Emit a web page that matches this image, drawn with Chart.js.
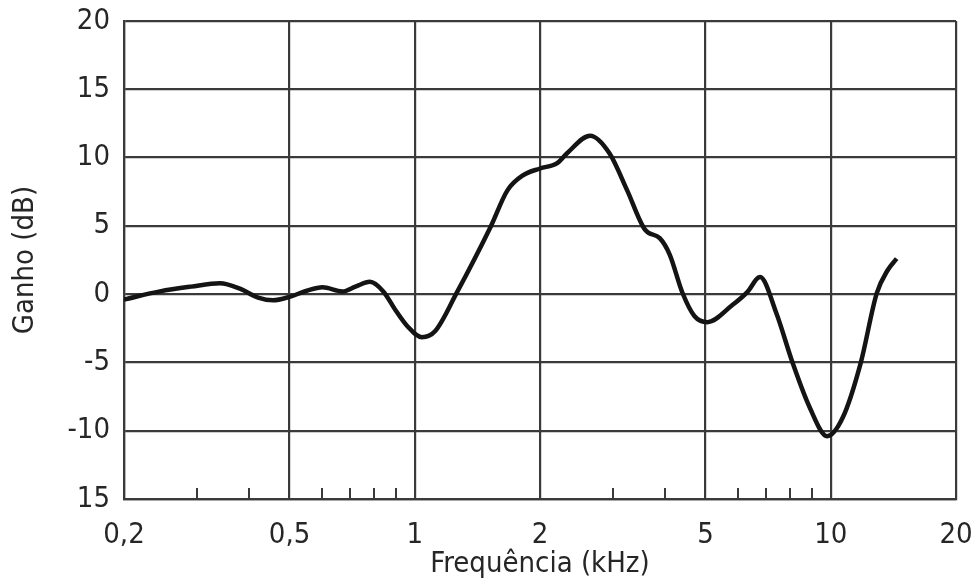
<!DOCTYPE html>
<html>
<head>
<meta charset="utf-8">
<script src="https://cdn.jsdelivr.net/npm/chart.js@4/dist/chart.umd.min.js"></script>
<style>
  html, body { margin: 0; padding: 0; background: #fff; }
  #wrap { width: 971px; height: 586px; position: relative; }
</style>
</head>
<body>
<div id="wrap"><canvas id="c" width="971" height="586"></canvas></div>
<script>
// ---- data ----
const freqKHz = [0.2, 0.244, 0.29, 0.34, 0.38, 0.42, 0.456, 0.5, 0.55, 0.6, 0.67, 0.72, 0.78, 0.84, 0.9, 0.96, 1.04, 1.12, 1.26, 1.52, 1.67, 1.82, 2.0, 2.2, 2.32, 2.64, 2.94, 3.24, 3.58, 3.88, 4.1, 4.4, 4.7, 5.05, 5.8, 6.3, 6.76, 7.4, 8.1, 8.9, 9.8, 10.7, 11.8, 12.9, 13.7, 14.4];
const gainDB  = [-0.4, 0.2, 0.55, 0.8, 0.4, -0.25, -0.45, -0.2, 0.25, 0.5, 0.2, 0.55, 0.9, 0.2, -1.2, -2.35, -3.15, -2.7, 0.07, 4.9, 7.6, 8.7, 9.2, 9.6, 10.3, 11.6, 10.3, 7.6, 4.7, 4.1, 2.9, 0.1, -1.6, -2.05, -0.8, 0.15, 1.25, -1.4, -5.05, -8.3, -10.4, -9.0, -5.05, 0.07, 1.75, 2.6];

const xTickValues = [0.2, 0.5, 1, 2, 5, 10, 20];
const xTickLabels = ['0,2', '0,5', '1', '2', '5', '10', '20'];
const xMinorTicks = [0.3, 0.4, 0.6, 0.7, 0.8, 0.9, 3, 4, 6, 7, 8, 9];
const yTickValues = [-15, -10, -5, 0, 5, 10, 15, 20];
const yTickLabels = ['15', '-10', '-5', '0', '5', '10', '15', '20'];

const xTitle = 'Frequência (kHz)';
const yTitle = 'Ganho (dB)';

// ---- styles ----
const FONT_FAMILY = "'DejaVu Sans Condensed', 'DejaVu Sans', sans-serif";
const FONT_SIZE = 29;
const GRID = '#3a3a3a';
const TEXT = '#262626';

const minorTickPlugin = {
  id: 'minorTicks',
  afterDraw(chart) {
    const xs = chart.scales.x;
    const ctx = chart.ctx;
    const bottom = chart.chartArea.bottom;
    ctx.save();
    ctx.strokeStyle = GRID;
    ctx.lineWidth = 2;
    xMinorTicks.forEach(v => {
      const px = Math.round(xs.getPixelForValue(v));
      ctx.beginPath();
      ctx.moveTo(px, bottom);
      ctx.lineTo(px, bottom - 11);
      ctx.stroke();
    });
    ctx.restore();
  }
};

const points = freqKHz.map((f, i) => ({ x: f, y: gainDB[i] }));

new Chart(document.getElementById('c'), {
  type: 'line',
  data: {
    datasets: [{
      data: points,
      borderColor: '#141414',
      borderWidth: 4.5,
      pointRadius: 0,
      fill: false,
      cubicInterpolationMode: 'monotone'
    }]
  },
  options: {
    responsive: false,
    animation: false,
    devicePixelRatio: 1,
    layout: { padding: { top: 21, right: 15, left: 0, bottom: 0 } },
    plugins: { legend: { display: false }, tooltip: { enabled: false } },
    scales: {
      x: {
        type: 'logarithmic',
        min: 0.2,
        max: 20,
        afterBuildTicks(scale) { scale.ticks = xTickValues.map(v => ({ value: v })); },
        afterFit(scale) { scale.height = 87; scale.paddingLeft = 0; scale.paddingRight = 0; },
        grid: { color: GRID, lineWidth: 2.2, drawTicks: false },
        border: { display: true, color: GRID, width: 2.2 },
        ticks: {
          autoSkip: false, maxRotation: 0, padding: 19,
          color: TEXT,
          font: { family: FONT_FAMILY, size: FONT_SIZE },
          callback(value, index) { return xTickLabels[index]; }
        },
        title: {
          display: true, text: xTitle, color: TEXT,
          font: { family: FONT_FAMILY, size: FONT_SIZE },
          padding: { top: 0, bottom: 4 }
        }
      },
      y: {
        type: 'linear',
        min: -15,
        max: 20,
        afterBuildTicks(scale) { scale.ticks = yTickValues.map(v => ({ value: v })); },
        afterFit(scale) { scale.width = 124; scale.paddingTop = 0; scale.paddingBottom = 0; },
        grid: { color: GRID, lineWidth: 2.2, drawTicks: false },
        border: { display: true, color: GRID, width: 2.2 },
        ticks: {
          padding: 14,
          color: TEXT,
          font: { family: FONT_FAMILY, size: FONT_SIZE },
          callback(value, index) { return yTickLabels[index]; }
        },
        title: {
          display: true, text: yTitle, color: TEXT,
          font: { family: FONT_FAMILY, size: FONT_SIZE },
          padding: { top: 8, bottom: 0 }
        }
      }
    }
  },
  plugins: [minorTickPlugin]
});
</script>
</body>
</html>
